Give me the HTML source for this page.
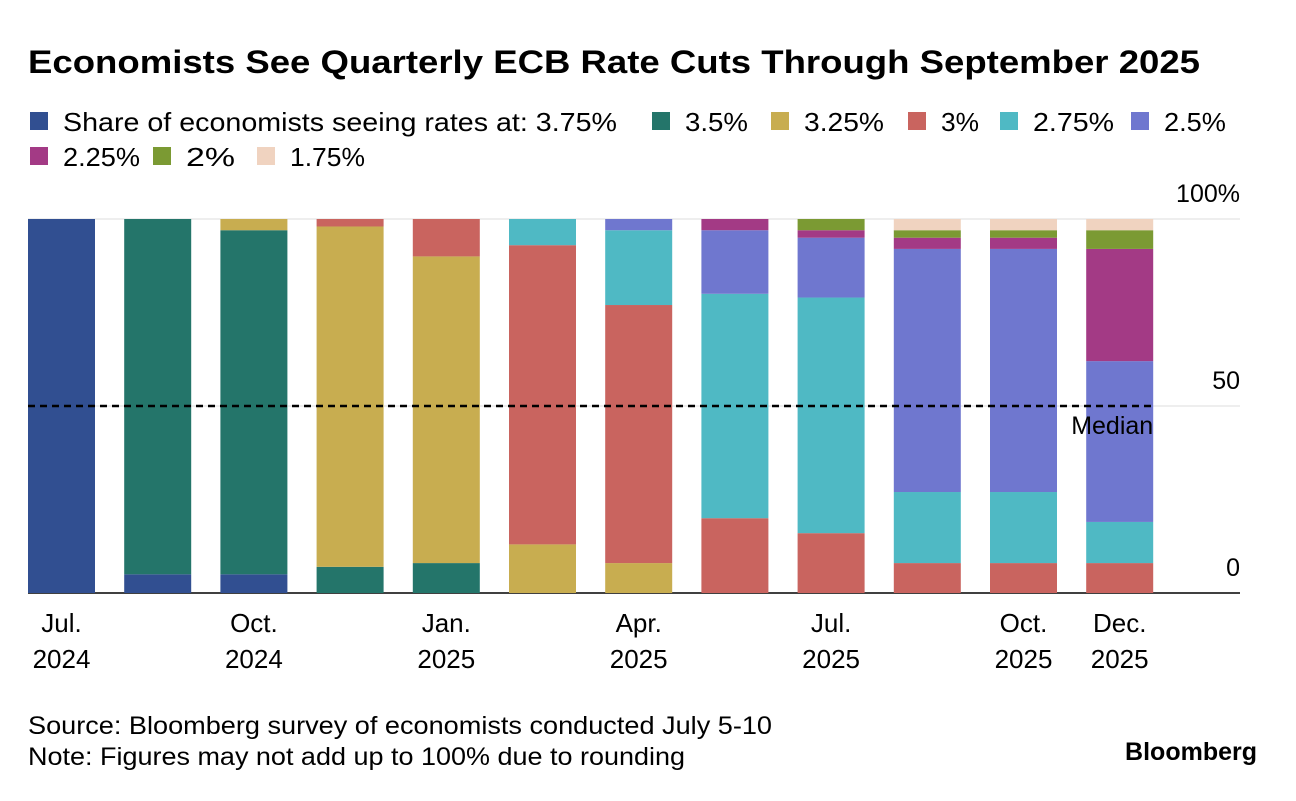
<!DOCTYPE html>
<html><head><meta charset="utf-8"><style>
body{margin:0;background:#fff;font-family:"Liberation Sans",Arial,sans-serif;}
</style></head><body>
<svg width="1296" height="796" xmlns="http://www.w3.org/2000/svg" font-family="Liberation Sans, Arial, sans-serif">
<text x="28" y="73" font-size="32" font-weight="bold" fill="#000" textLength="1172" lengthAdjust="spacingAndGlyphs">Economists See Quarterly ECB Rate Cuts Through September 2025</text>
<g id="legend"></g>
<g id="grid"></g>
<g id="bars"></g>
<g id="xaxis"></g>
<text x="28" y="734" font-size="25" fill="#000" textLength="744" lengthAdjust="spacingAndGlyphs">Source: Bloomberg survey of economists conducted July 5-10</text>
<text x="28" y="765" font-size="25" fill="#000" textLength="657" lengthAdjust="spacingAndGlyphs">Note: Figures may not add up to 100% due to rounding</text>
<text x="1257" y="760" font-size="25" font-weight="bold" text-anchor="end" fill="#000">Bloomberg</text>
</svg>
<script>
const categories=["Jul. 2024","Aug. 2024","Oct. 2024","Nov. 2024","Jan. 2025","Mar. 2025","Apr. 2025","Jun. 2025","Jul. 2025","Sep. 2025","Oct. 2025","Dec. 2025"];
const xLabels=[["Jul.","2024"],null,["Oct.","2024"],null,["Jan.","2025"],null,["Apr.","2025"],null,["Jul.","2025"],null,["Oct.","2025"],["Dec.","2025"]];
const seriesNames=["3.75%","3.5%","3.25%","3%","2.75%","2.5%","2.25%","2%","1.75%"];
const colors=["#314f91","#24756a","#c8ad50","#c9645f","#4fb9c4","#6f77cf","#a33a85","#7b9a33","#f0d3c0"];
const s375=[100,5,5,0,0,0,0,0,0,0,0,0];
const s350=[0,95,92,7,8,0,0,0,0,0,0,0];
const s325=[0,0,3,91,82,13,8,0,0,0,0,0];
const s300=[0,0,0,2,10,80,69,20,16,8,8,8];
const s275=[0,0,0,0,0,7,20,60,63,19,19,11];
const s250=[0,0,0,0,0,0,3,17,16,65,65,43];
const s225=[0,0,0,0,0,0,0,3,2,3,3,30];
const s200=[0,0,0,0,0,0,0,0,3,2,2,5];
const s175=[0,0,0,0,0,0,0,0,0,3,3,3];
const series=[s375,s350,s325,s300,s275,s250,s225,s200,s175];
const yTicks=[0,50,100];
const yTickLabels=["0","50","100%"];
const median=50;

const NS="http://www.w3.org/2000/svg";
const y0=593,y100=219,x0=28,step=96.2,bw=67;
const y=v=>y0-(v/100)*(y0-y100);
const x=i=>x0+i*step;
function mk(t,a,p){const e=document.createElementNS(NS,t);for(const k in a)e.setAttribute(k,a[k]);p.appendChild(e);return e;}

const leg=document.getElementById('legend');
const legPos=[[30,131,554,"Share of economists seeing rates at: 3.75%"],[652,131,63],[771,131,80],[908,131,38],[1000,131,81],[1131,131,62],[30,166,77],[153,166,49],[257,166,75]];
seriesNames.forEach((n,i)=>{
  const [lx,ly,tl,txt]=legPos[i];
  const r=mk('rect',{x:lx,y:ly-19,width:18,height:18,fill:colors[i]},leg);
  
  
  const t=mk('text',{x:lx+33,y:ly,'font-size':26,fill:'#000',textLength:tl,lengthAdjust:'spacingAndGlyphs'},leg);t.textContent=txt||n;
  
  
});

const g=document.getElementById('grid');
yTicks.forEach((v,i)=>{
  const l=mk('line',{x1:x0,x2:1240,y1:y(v),y2:y(v),stroke:v===0?'#000':'#ddd','stroke-width':v===0?1.5:1},g);
  
  
  const t=mk('text',{x:1240,y:y(v)-17,'font-size':25,'text-anchor':'end',fill:'#000'},g);t.textContent=yTickLabels[i];
  
  
});

const b=document.getElementById('bars');
categories.forEach((c,i)=>{
  let cum=0;
  series.forEach((s,k)=>{
    const v=s[i];if(!v)return;
    const r=mk('rect',{x:x(i),y:y(cum+v),width:bw,height:y(cum)-y(cum+v),fill:colors[k]},b);
    
    
    cum+=v;
  });
  if(xLabels[i]){
    const xa=document.getElementById('xaxis');
    xLabels[i].forEach((ln,j)=>{
      const t=mk('text',{x:x(i)+bw/2,y:632+j*36,'font-size':26,'text-anchor':'middle',fill:'#000'},xa);t.textContent=ln;
      
      
    });
  }
});
const ml=mk('line',{x1:x0,x2:x(11)+bw,y1:y(median),y2:y(median),stroke:'#000','stroke-width':2.5,'stroke-dasharray':'7,5'},b);


const mt=mk('text',{x:x(11)+bw,y:y(median)+28,'font-size':25,'text-anchor':'end',fill:'#000'},b);mt.textContent="Median";


</script>
</body></html>
